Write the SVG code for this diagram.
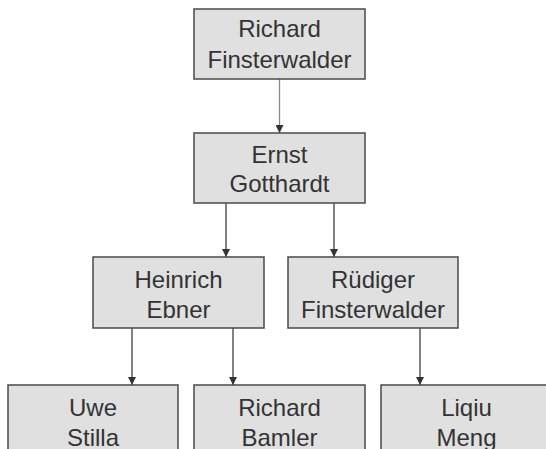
<svg xmlns="http://www.w3.org/2000/svg" width="546" height="449" viewBox="0 0 546 449">
<defs>
<style>
.box{fill:#e0e0e1;stroke:#4a4a4a;stroke-width:1.5}
.t{font-family:"Liberation Sans",Arial,sans-serif;font-size:24px;fill:#333;text-anchor:middle}
.c{stroke:#404040;stroke-width:1.3;fill:none;marker-end:url(#ah)}
</style>
<marker id="ah" viewBox="0 0 10 10" refX="10" refY="5" markerWidth="8" markerHeight="8" markerUnits="userSpaceOnUse" orient="auto">
<path d="M0,0 L10,5 L0,10 z" fill="#333"/>
</marker>
</defs>
<rect width="546" height="449" fill="#fff"/>
<g id="connectors">
<line class="c" x1="279.5" y1="79" x2="279.5" y2="133" style="stroke:#888"/>
<line class="c" x1="226" y1="203" x2="226" y2="257"/>
<line class="c" x1="334" y1="203" x2="334" y2="257"/>
<line class="c" x1="132" y1="328" x2="132" y2="385"/>
<line class="c" x1="233" y1="328" x2="233" y2="385"/>
<line class="c" x1="420" y1="328" x2="420" y2="385"/>
</g>
<g id="richard-finsterwalder">
<rect class="box" x="194" y="9" width="171" height="70"/>
<text class="t" x="279.5" y="37">Richard</text>
<text class="t" x="279.5" y="68">Finsterwalder</text>
</g>
<g id="ernst-gotthardt">
<rect class="box" x="194" y="133" width="171" height="70"/>
<text class="t" x="279.5" y="163">Ernst</text>
<text class="t" x="279.5" y="192">Gotthardt</text>
</g>
<g id="heinrich-ebner">
<rect class="box" x="93" y="257" width="171" height="71"/>
<text class="t" x="178.5" y="288">Heinrich</text>
<text class="t" x="178.5" y="318">Ebner</text>
</g>
<g id="ruediger-finsterwalder">
<rect class="box" x="288" y="257" width="170" height="71"/>
<text class="t" x="373" y="288">Rüdiger</text>
<text class="t" x="373" y="318">Finsterwalder</text>
</g>
<g id="uwe-stilla">
<rect class="box" x="8" y="385" width="170" height="72"/>
<text class="t" x="93" y="416">Uwe</text>
<text class="t" x="93" y="446">Stilla</text>
</g>
<g id="richard-bamler">
<rect class="box" x="194" y="385" width="171" height="72"/>
<text class="t" x="279.5" y="416">Richard</text>
<text class="t" x="279.5" y="446">Bamler</text>
</g>
<g id="liqiu-meng">
<rect class="box" x="381" y="385" width="171" height="72"/>
<text class="t" x="466.5" y="416">Liqiu</text>
<text class="t" x="466.5" y="446">Meng</text>
</g>
</svg>
